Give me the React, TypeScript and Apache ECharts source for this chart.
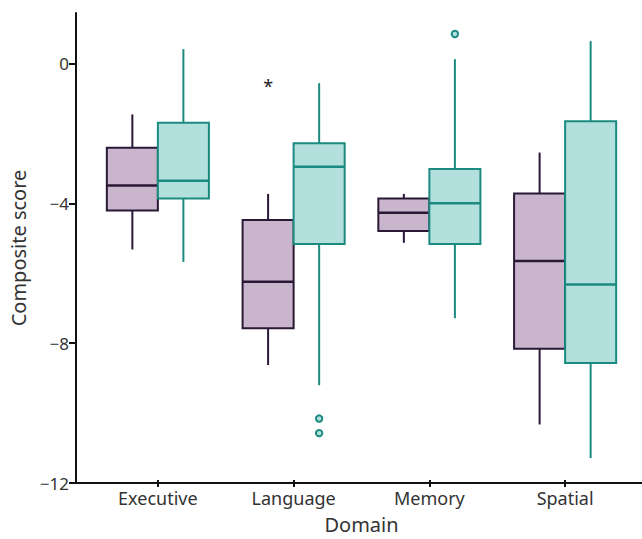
import React, { useEffect, useRef } from "react";
import * as echarts from "echarts";

const categories = ["Executive", "Language", "Memory", "Spatial"];
// [low whisker, Q1, median, Q3, high whisker]
const groupAStats = [
  [-5.36, -4.24, -3.52, -2.43, -1.47],
  [-8.69, -7.63, -6.29, -4.51, -3.76],
  [-5.17, -4.83, -4.3, -3.89, -3.76],
  [-10.4, -8.22, -5.69, -3.75, -2.57],
];
const groupBStats = [
  [-5.72, -3.89, -3.38, -1.71, 0.41],
  [-9.27, -5.2, -2.98, -2.3, -0.57],
  [-7.34, -5.2, -4.03, -3.04, 0.12],
  [-11.37, -8.63, -6.37, -1.67, 0.64],
];
const groupBOutliers = [
  [1, -10.23],
  [1, -10.65],
  [2, 0.845],
];
const starMarks = [[1, -0.62]];
const yTicks = [-12, -8, -4, 0];
const yMin = -12;
const yMax = 1.45;

const BOX_FRAC = 0.376;
const A_FILL = "#c9b5cc";
const A_STROKE = "#2a1837";
const B_FILL = "#b3e0dd";
const B_STROKE = "#1b8a80";
const FONT = "Noto Sans";

function boxRenderer(side: number, fill: string, stroke: string) {
  return (params: any, api: any) => {
    const cat = api.value(0);
    const band = api.size([1, 0])[0];
    const w = band * BOX_FRAC;
    const cx = api.coord([cat, 0])[0];
    const yLow = api.coord([cat, api.value(1)])[1];
    const yQ1 = api.coord([cat, api.value(2)])[1];
    const yMed = api.coord([cat, api.value(3)])[1];
    const yQ3 = api.coord([cat, api.value(4)])[1];
    const yHigh = api.coord([cat, api.value(5)])[1];
    const left = side < 0 ? cx - w : cx;
    const mid = left + w / 2;
    const ls = { stroke, lineWidth: 2 };
    return {
      type: "group",
      children: [
        { type: "line", shape: { x1: mid, y1: yHigh, x2: mid, y2: yQ3 }, style: ls },
        { type: "line", shape: { x1: mid, y1: yQ1, x2: mid, y2: yLow }, style: ls },
        {
          type: "rect",
          shape: { x: left, y: yQ3, width: w, height: yQ1 - yQ3 },
          style: { fill, stroke, lineWidth: 2 },
        },
        { type: "line", shape: { x1: left, y1: yMed, x2: left + w, y2: yMed }, style: { stroke, lineWidth: 2.5 } },
      ],
    };
  };
}

function outlierRenderer(side: number, fill: string, stroke: string) {
  return (params: any, api: any) => {
    const cat = api.value(0);
    const band = api.size([1, 0])[0];
    const w = band * BOX_FRAC;
    const [cx, cy] = api.coord([cat, api.value(1)]);
    return {
      type: "circle",
      shape: { cx: cx + (side * w) / 2, cy, r: 3.2 },
      style: { fill, stroke, lineWidth: 2 },
    };
  };
}

function starRenderer(side: number) {
  return (params: any, api: any) => {
    const cat = api.value(0);
    const band = api.size([1, 0])[0];
    const w = band * BOX_FRAC;
    const [cx, cy] = api.coord([cat, api.value(1)]);
    return {
      type: "text",
      x: cx + (side * w) / 2,
      y: cy + 1,
      style: {
        text: "*",
        fontFamily: FONT,
        fontSize: 18,
        fill: "#222",
        align: "center",
        verticalAlign: "middle",
      },
    };
  };
}

export default function App() {
  const ref = useRef<HTMLDivElement>(null);
  useEffect(() => {
    if (!ref.current) return;
    const chart = echarts.init(ref.current, null, { renderer: "svg" });
    const dataA = groupAStats.map((s, i) => [i, ...s]);
    const dataB = groupBStats.map((s, i) => [i, ...s]);
    chart.setOption({
      animation: false,
      backgroundColor: "#ffffff",
      textStyle: { fontFamily: FONT },
      grid: [
        { left: 76, right: 0, top: 13, bottom: 56 },
        { left: 90, right: 9, top: 13, bottom: 56 },
      ],
      xAxis: [
        {
          type: "value",
          gridIndex: 0,
          min: 0,
          max: 1,
          axisLine: { show: true, onZero: false, lineStyle: { color: "#111", width: 2 } },
          axisTick: { show: false },
          axisLabel: { show: false },
          splitLine: { show: false },
        },
        {
          type: "category",
          gridIndex: 1,
          position: "bottom",
          data: categories,
          boundaryGap: true,
          name: "Domain",
          nameLocation: "middle",
          nameGap: 34,
          nameTextStyle: { fontFamily: FONT, fontSize: 20, color: "#333" },
          axisLine: { show: false, onZero: false },
          axisTick: { show: true, alignWithLabel: true, length: 7, lineStyle: { color: "#111", width: 2 } },
          axisLabel: { fontFamily: FONT, fontSize: 18, color: "#333", margin: 9 },
          splitLine: { show: false },
        },
      ],
      yAxis: [
        {
          type: "value",
          gridIndex: 0,
          min: yMin,
          max: yMax,
          name: "Composite score",
          nameLocation: "middle",
          nameGap: 43,
          nameTextStyle: { fontFamily: FONT, fontSize: 20, color: "#333" },
          axisLine: { show: true, onZero: false, lineStyle: { color: "#111", width: 2 } },
          axisTick: { show: true, length: 7, customValues: yTicks, lineStyle: { color: "#111", width: 2 } },
          axisLabel: {
            customValues: yTicks,
            fontFamily: FONT,
            fontSize: 17,
            color: "#333",
            margin: 7,
            formatter: (v: number) => (v < 0 ? "\u2212" + Math.abs(v) : String(v)),
          },
          splitLine: { show: false },
        },
        {
          type: "value",
          gridIndex: 1,
          min: yMin,
          max: yMax,
          show: false,
          splitLine: { show: false },
        },
      ],
      series: [
        {
          type: "custom",
          name: "Group A",
          xAxisIndex: 1,
          yAxisIndex: 1,
          data: dataA,
          encode: { x: 0, y: [1, 2, 3, 4, 5] },
          renderItem: boxRenderer(-1, A_FILL, A_STROKE),
          z: 3,
        },
        {
          type: "custom",
          name: "Group B",
          xAxisIndex: 1,
          yAxisIndex: 1,
          data: dataB,
          encode: { x: 0, y: [1, 2, 3, 4, 5] },
          renderItem: boxRenderer(1, B_FILL, B_STROKE),
          z: 3,
        },
        {
          type: "custom",
          name: "Outliers B",
          xAxisIndex: 1,
          yAxisIndex: 1,
          data: groupBOutliers,
          encode: { x: 0, y: 1 },
          renderItem: outlierRenderer(1, B_FILL, B_STROKE),
          z: 4,
        },
        {
          type: "custom",
          name: "Star",
          xAxisIndex: 1,
          yAxisIndex: 1,
          data: starMarks,
          encode: { x: 0, y: 1 },
          renderItem: starRenderer(-1),
          z: 4,
        },
      ],
    });
    return () => chart.dispose();
  }, []);
  return (
    <div
      ref={ref}
      style={{ position: "fixed", left: 0, top: 0, width: 642, height: 539 }}
    />
  );
}
